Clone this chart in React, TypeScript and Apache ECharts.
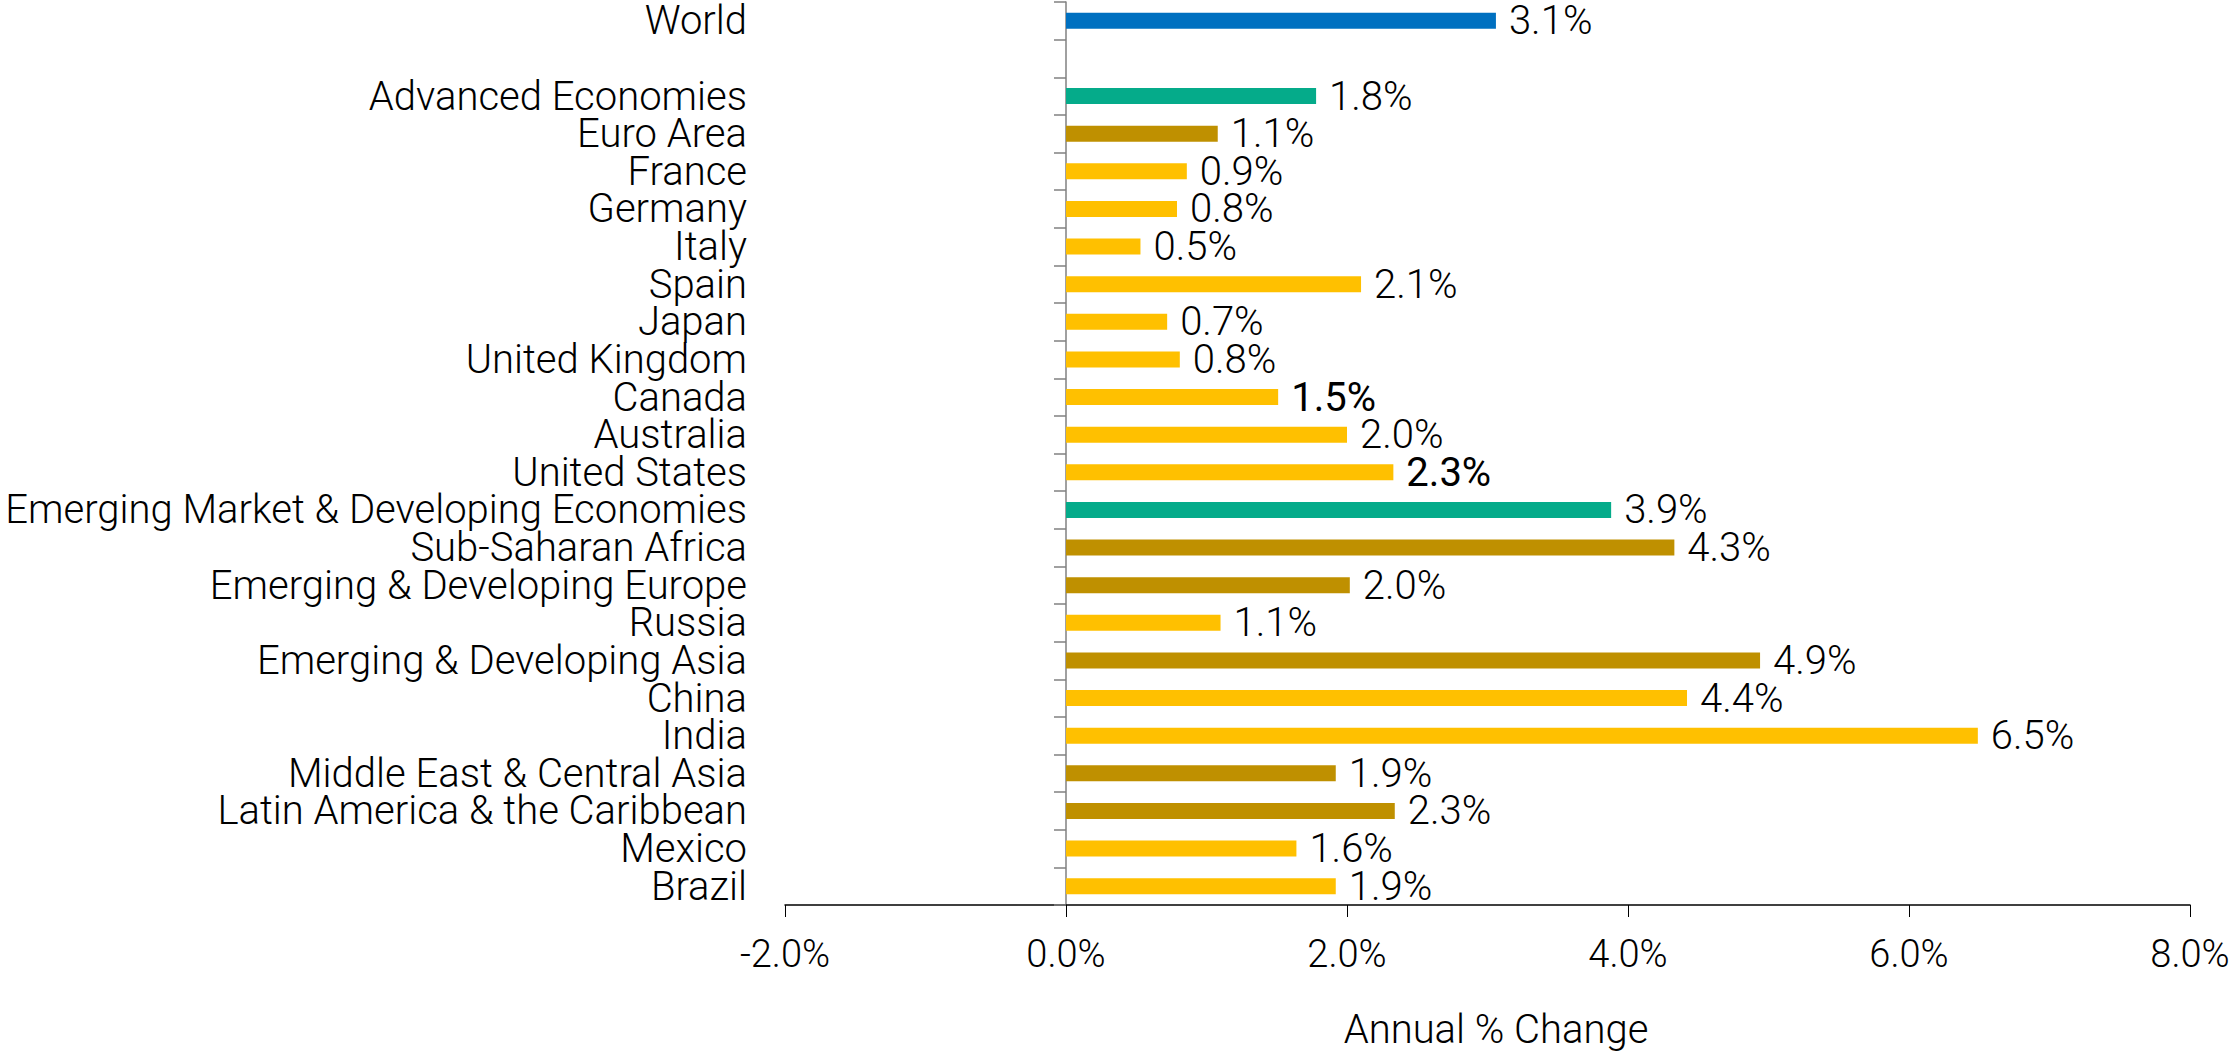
import React, { useEffect, useRef } from "react";
import * as echarts from "echarts";

const categories: string[] = [
  "World",
  "",
  "Advanced Economies",
  "Euro Area",
  "France",
  "Germany",
  "Italy",
  "Spain",
  "Japan",
  "United Kingdom",
  "Canada",
  "Australia",
  "United States",
  "Emerging Market & Developing Economies",
  "Sub-Saharan Africa",
  "Emerging & Developing Europe",
  "Russia",
  "Emerging & Developing Asia",
  "China",
  "India",
  "Middle East & Central Asia",
  "Latin America & the Caribbean",
  "Mexico",
  "Brazil",
];

const values: (number | null)[] = [
  3.06, null, 1.78, 1.08, 0.86, 0.79, 0.53, 2.1, 0.72, 0.81, 1.51, 2.0, 2.33,
  3.88, 4.33, 2.02, 1.1, 4.94, 4.42, 6.49, 1.92, 2.34, 1.64, 1.92,
];

// group per category: w = world, a = aggregate, r = region, c = country
const groups: string[] = [
  "w", "", "a", "r", "c", "c", "c", "c", "c", "c", "c", "c", "c",
  "a", "r", "r", "c", "r", "c", "c", "r", "r", "c", "c",
];

const emphasized: string[] = ["Canada", "United States"];

const xTicks = { min: -2, max: 8, interval: 2 };

const groupColors: Record<string, string> = {
  w: "#0070C0",
  a: "#05AB8A",
  r: "#BF9000",
  c: "#FFC000",
};

const FONT = "Roboto";

export default function App() {
  const ref = useRef<HTMLDivElement>(null);

  useEffect(() => {
    document.body.style.margin = "0";
    if (!ref.current) return;
    const chart = echarts.init(ref.current, undefined, { renderer: "svg" });

    const data = values.map((v, i) => {
      if (v === null) return { value: null };
      const strong = emphasized.includes(categories[i]);
      return {
        value: v,
        itemStyle: { color: groupColors[groups[i]] },
        label: strong ? { fontWeight: 400, color: "#000" } : undefined,
      };
    });

    chart.setOption({
      animation: false,
      backgroundColor: "#fff",
      grid: { left: 785, right: 44, top: 2, bottom: 148, containLabel: false },
      xAxis: {
        type: "value",
        min: xTicks.min,
        max: xTicks.max,
        interval: xTicks.interval,
        name: "Annual % Change",
        nameLocation: "middle",
        nameGap: 104,
        nameTextStyle: {
          fontFamily: FONT,
          fontWeight: 300,
          fontSize: 40,
          color: "#000",
          padding: [0, 0, 0, 17],
        },
        axisLine: { show: true, lineStyle: { color: "#000", width: 1.5 } },
        axisTick: { show: true, length: 12, lineStyle: { color: "#000", width: 1 } },
        splitLine: { show: false },
        axisLabel: {
          fontFamily: FONT,
          fontWeight: 300,
          fontSize: 38,
          color: "#000",
          margin: 30,
          formatter: (v: number) => v.toFixed(1) + "%",
        },
      },
      yAxis: [
        {
          type: "category",
          data: categories,
          inverse: true,
          position: "left",
          axisLine: { show: false, onZero: false },
          axisTick: { show: false },
          splitLine: { show: false },
          axisLabel: {
            fontFamily: FONT,
            fontWeight: 300,
            fontSize: 40,
            color: "#000",
            margin: 38,
            interval: 0,
          },
        },
        {
          type: "category",
          data: categories,
          inverse: true,
          position: "left",
          axisLine: { show: true, onZero: true, lineStyle: { color: "#808080", width: 1.5 } },
          axisTick: { show: true, length: 12, lineStyle: { color: "#808080", width: 1.5 }, interval: 0 },
          axisLabel: { show: false },
          splitLine: { show: false },
        },
      ],
      series: [
        {
          type: "bar",
          yAxisIndex: 0,
          data,
          barWidth: 16,
          label: {
            show: true,
            position: "right",
            distance: 13,
            fontFamily: FONT,
            fontWeight: 300,
            fontSize: 40,
            color: "#000",
            formatter: (p: any) => (p.value == null ? "" : Number(p.value).toFixed(1) + "%"),
          },
        },
      ],
    });

    return () => chart.dispose();
  }, []);

  return (
    <div
      ref={ref}
      style={{ position: "absolute", left: 0, top: 0, width: 2234, height: 1054 }}
    />
  );
}
